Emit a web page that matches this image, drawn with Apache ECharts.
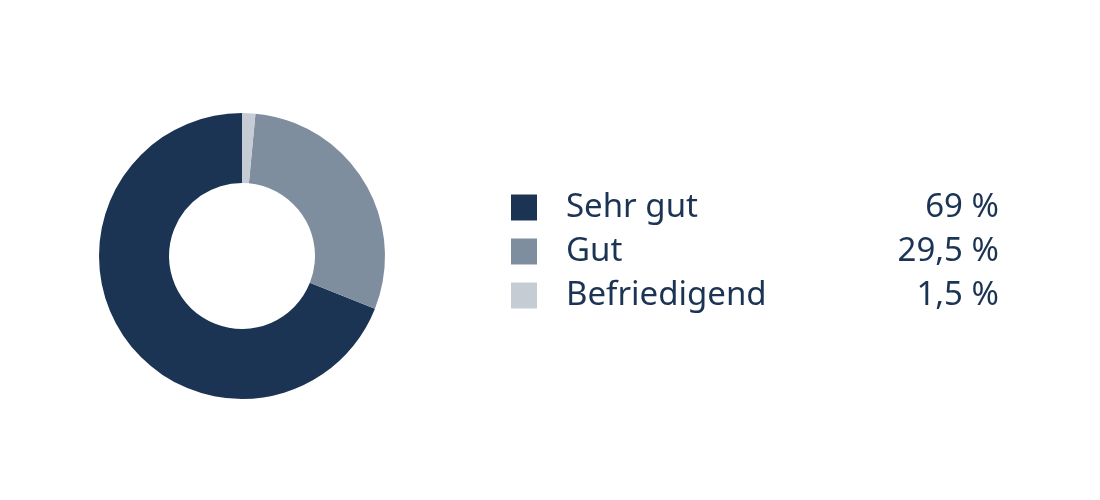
<!DOCTYPE html>
<html style="height: 100%">
<head>
    <meta charset="utf-8">
    <title>Bewertung</title>
    <script type="text/javascript" src="https://cdn.jsdelivr.net/npm/echarts@6/dist/echarts.min.js"></script>
</head>
<body style="width: 100%;margin: 0;height: 100%;background: #ffffff">
<div id="container" style="width: 1100px;height: 500px"></div>

<script type="application/javascript">

    // Daten
    var names = ['Sehr gut', 'Gut', 'Befriedigend'];
    var values = [69, 29.5, 1.5];
    var labels = ['69 %', '29,5 %', '1,5 %'];
    var colors = ['#1c3453', '#7f8e9f', '#c6ccd4'];

    var textColor = '#1c3453';

    var data = [];
    for (var i = 0; i < names.length; i++) {
        data.push({name: names[i], value: values[i], itemStyle: {color: colors[i]}});
    }

    var dom = document.getElementById("container");
    var myChart = echarts.init(dom, null, {renderer: 'canvas'});

    var option = {
        animation: false,
        legend: {
            orient: 'vertical',
            left: 511,
            top: 191,
            padding: 0,
            icon: 'rect',
            itemWidth: 26,
            itemHeight: 26,
            itemGap: 11,
            selectedMode: false,
            data: names,
            formatter: function (name) {
                var idx = names.indexOf(name);
                return '{n|' + name + '}{v|' + labels[idx] + '}';
            },
            textStyle: {
                lineHeight: 26,
                rich: {
                    n: {
                        fontFamily: 'Noto Sans',
                        fontWeight: 'normal',
                        fontSize: 33,
                        color: textColor,
                        width: 290,
                        lineHeight: 26,
                        padding: [0, 0, 0, 24]
                    },
                    v: {
                        fontFamily: 'Noto Sans',
                        fontWeight: 'normal',
                        fontSize: 33,
                        color: textColor,
                        width: 143,
                        align: 'right',
                        lineHeight: 26
                    }
                }
            }
        },
        series: [
            {
                type: 'pie',
                center: [242, 256],
                radius: [73, 143],
                startAngle: 90,
                clockwise: false,
                label: {show: false},
                labelLine: {show: false},
                emphasis: {disabled: true},
                data: data
            }
        ]
    };

    myChart.setOption(option, true);
</script>

</body>
</html>
